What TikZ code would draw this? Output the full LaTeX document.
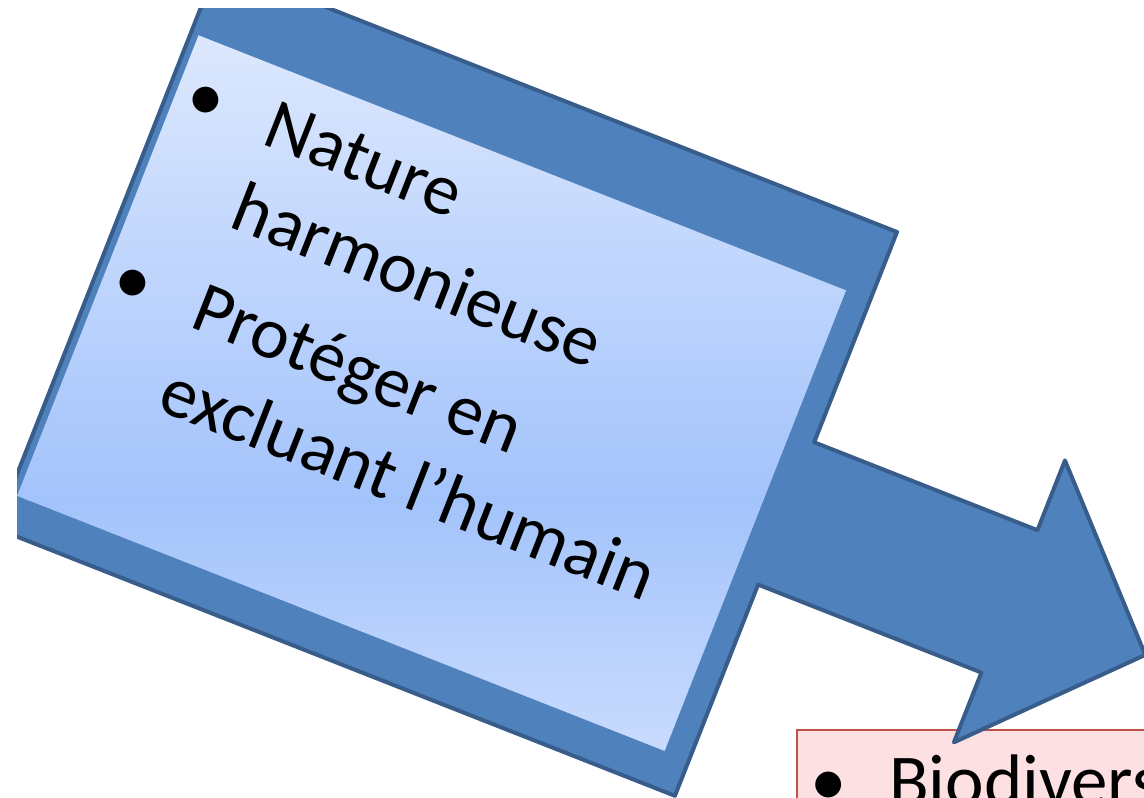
\documentclass[tikz,border=0pt]{standalone}
\usepackage{fontspec}
\setmainfont{Carlito}
\definecolor{arrowfill}{HTML}{4F81BD}
\definecolor{arrowline}{HTML}{385D8A}
\definecolor{innertop}{HTML}{DDE8FE}
\definecolor{innermid}{HTML}{A3C3FB}
\definecolor{innerbot}{HTML}{CADCFD}
\definecolor{pinkfill}{HTML}{FDE0E1}
\definecolor{pinkline}{HTML}{C0504D}
\newcommand{\bulletmark}{\makebox[0pt][c]{•}\hspace*{67pt}}
\newcommand{\hangmark}{\hspace*{67pt}}
\begin{document}
\begin{tikzpicture}[x=1pt,y=1pt,
  txt/.style={font=\fontsize{73}{89}\selectfont, inner sep=0pt, text=black},
  arrowshape/.style={fill=arrowfill, draw=arrowline, line width=4pt, line join=round},
  pinkbox/.style={fill=pinkfill, draw=pinkline, line width=2pt}]
\useasboundingbox (0,0) rectangle (1144,798);
\clip (17,0) rectangle (1144,789);
% pink box (bottom right, cut by the frame)
\path[pinkbox] (797,68) rectangle (1180,-40);
\node[txt, anchor=base west] (pt) at (828,-8) {\makebox[0pt][c]{•}\hspace*{61pt}Biodivers};
% rotated arrow-callout geometry
\begin{scope}[shift={(897,566)}, rotate=-21.5]
  \coordinate (o1) at (-730,0);
  \coordinate (o2) at (0,0);
  \coordinate (o3) at (0,-226);
  \coordinate (o4) at (240,-226);
  \coordinate (o5) at (240,-151);
  \coordinate (o6) at (386,-302.5);
  \coordinate (o7) at (240,-454);
  \coordinate (o8) at (240,-379);
  \coordinate (o9) at (0,-379);
  \coordinate (o10) at (0,-606);
  \coordinate (o11) at (-730,-606);
  \coordinate (i1) at (-722,-73);
  \coordinate (i2) at (-26,-73);
  \coordinate (i3) at (-26,-568);
  \coordinate (i4) at (-722,-568);
\end{scope}
\draw[arrowshape] (o1) -- (o2) -- (o3) -- (o4) -- (o5) -- (o6) -- (o7) -- (o8) -- (o9) -- (o10) -- (o11) -- cycle;
\begin{scope}
  \clip (i1) -- (i2) -- (i3) -- (i4) -- cycle;
  \shade[top color=innertop, bottom color=innermid] (0,297) rectangle (1144,765);
  \shade[top color=innermid, bottom color=innerbot] (0,40) rectangle (1144,298);
\end{scope}
% text (base anchor = baseline of the last line)
\begin{scope}[shift={(897,566)}, rotate=-21.5]
  \node[txt, rotate=-21.5, anchor=base west, align=left] (list) at (-692,-437)
    {\bulletmark Nature\\
     \hangmark harmonieuse\\[19pt]
     \bulletmark Protéger en\\
     \hangmark excluant l’humain};
\end{scope}
\end{tikzpicture}
\end{document}
